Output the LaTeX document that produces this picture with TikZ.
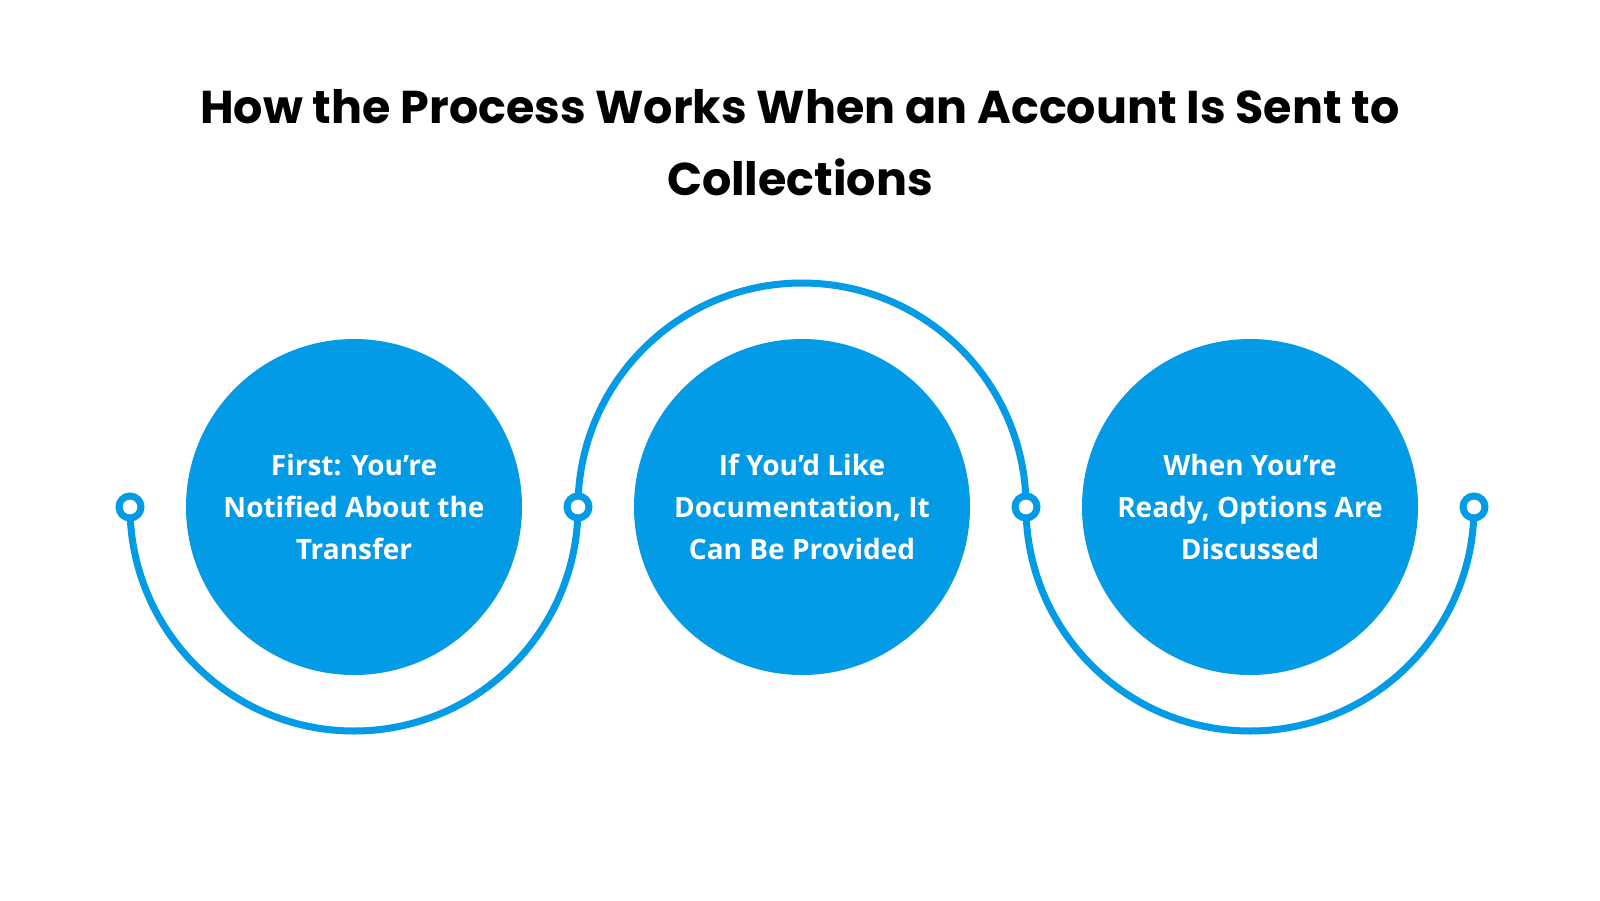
\documentclass[tikz,border=0pt]{standalone}
\usepackage{fontspec}
\setmainfont{Poppins}
\newfontfamily\bodyf{Open Sans}
\definecolor{cblue}{HTML}{039BE5}
\begin{document}
\begin{tikzpicture}[x=1pt,y=-1pt,
  arcl/.style={draw=cblue,line width=7pt},
  disc/.style={circle,fill=cblue,minimum size=336pt,inner sep=0pt,text=white,align=center,font=\bodyf\bfseries\fontsize{28}{42}\selectfont},
  ring/.style={circle,draw=cblue,line width=7pt,fill=white,minimum size=22pt,inner sep=0pt}]
\useasboundingbox[fill=white] (0,0) rectangle (1600,900);
\node[font=\bfseries\fontsize{46}{72}\selectfont,align=center] (title) at (800,143) {How the Process Works When an Account Is Sent to\\Collections};
\coordinate (p1) at (130,507);
\coordinate (p2) at (578,507);
\coordinate (p3) at (1026,507);
\coordinate (p4) at (1474,507);
\draw[arcl] (p1) arc[start angle=180,end angle=360,radius=224pt];
\draw[arcl] (p2) arc[start angle=180,end angle=0,radius=224pt];
\draw[arcl] (p3) arc[start angle=180,end angle=360,radius=224pt];
\node[ring] (r1) at (p1) {};
\node[ring] (r2) at (p2) {};
\node[ring] (r3) at (p3) {};
\node[ring] (r4) at (p4) {};
\node[disc] (c1) at (354,507) {First: You’re\\Notified About the\\Transfer};
\node[disc] (c2) at (802,507) {If You’d Like\\Documentation, It\\Can Be Provided};
\node[disc] (c3) at (1250,507) {When You’re\\Ready, Options Are\\Discussed};
\end{tikzpicture}
\end{document}
